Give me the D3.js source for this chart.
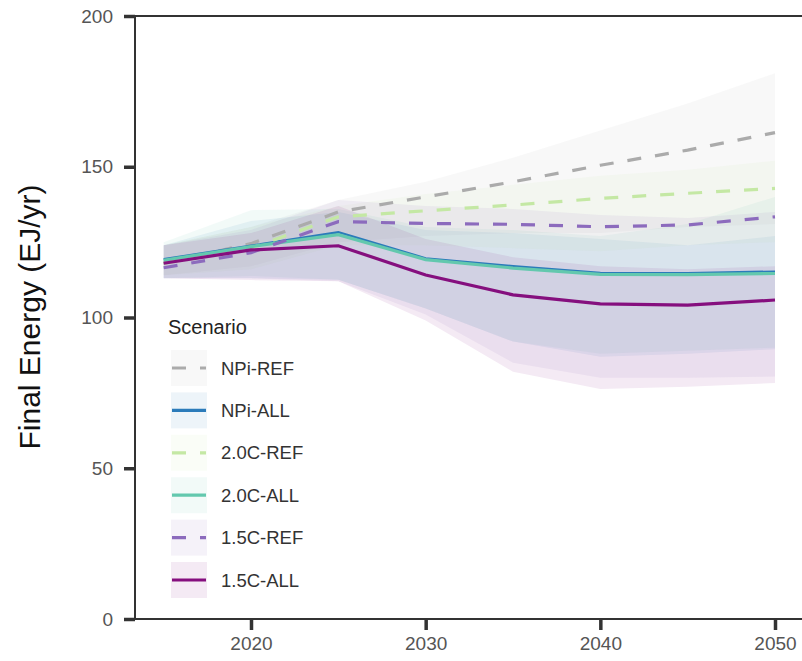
<!DOCTYPE html>
<html>
<head>
<meta charset="utf-8">
<script src="https://cdn.jsdelivr.net/npm/d3@7"></script>
<style>
  body { margin: 0; background: #fff; }
  svg { display: block; font-family: "Liberation Sans", Arial, sans-serif; }
</style>
</head>
<body>
<svg width="802" height="661"></svg>
<script>
// data
const years = [2015, 2020, 2025, 2030, 2035, 2040, 2045, 2050];
const scenarios = ["NPi-REF", "NPi-ALL", "2.0C-REF", "2.0C-ALL", "1.5C-REF", "1.5C-ALL"];
const colors = ["#ababab", "#2b7bba", "#c4e8a4", "#63c8ae", "#8c6bbd", "#850f7e"];
const dashed = [true, false, true, false, true, false];

const mid = [
  [118, 124.5, 135, 140, 145, 150.5, 155.5, 161.3],
  [119.3, 123.8, 128.3, 119.6, 117, 114.8, 114.7, 115.2],
  [118, 123, 133.4, 135.4, 137.3, 139.5, 141.2, 142.8],
  [119, 123.5, 127.5, 119.2, 116.4, 114.3, 114.2, 114.6],
  [116.5, 121.5, 131.8, 131.2, 130.9, 130.1, 130.7, 133.4],
  [118, 122.4, 123.8, 114.1, 107.5, 104.5, 104.1, 105.8]
];
const lo = [
  [114, 117, 125, 127, 128, 128, 130, 131],
  [113, 113, 112.5, 103, 92, 87, 88, 89.5],
  [114, 116, 124, 124, 123, 122, 124, 125],
  [113, 113.8, 112.5, 103, 92, 88, 89, 90],
  [113, 113, 112, 101, 85, 80, 80, 80.4],
  [113, 112.4, 112, 99, 82, 76.3, 77, 78.3]
];
const hi = [
  [124, 130, 139, 145, 153, 162, 171, 181],
  [124, 132, 135, 129, 128, 126, 124, 127],
  [124, 130, 137, 141, 144, 147, 149, 152],
  [125, 135.6, 136, 130, 129, 127, 131, 140],
  [124, 129, 139, 137, 136, 134, 133, 135],
  [124, 128, 137, 126, 120, 117, 116, 117]
];
const yTicks = [0, 50, 100, 150, 200];
const xTicks = [2020, 2030, 2040, 2050];

const bandAlpha = 0.085;

const svg = d3.select("svg");
const x = d3.scaleLinear().domain([2020, 2050]).range([251, 775]);
const y = d3.scaleLinear().domain([0, 200]).range([619, 16]);

const series = scenarios.map((name, i) => ({
  name, color: colors[i], dashed: dashed[i],
  pts: years.map((yr, j) => ({yr, v: mid[i][j], lo: lo[i][j], hi: hi[i][j]}))
}));

const area = d3.area().x(d => x(d.yr)).y0(d => y(d.lo)).y1(d => y(d.hi));
const line = d3.line().x(d => x(d.yr)).y(d => y(d.v));

svg.append("g").selectAll("path")
  .data(series)
  .join("path")
    .attr("d", d => area(d.pts))
    .attr("fill", d => d.color)
    .attr("fill-opacity", bandAlpha);

svg.append("g").selectAll("path")
  .data(series)
  .join("path")
    .attr("d", d => line(d.pts))
    .attr("fill", "none")
    .attr("stroke", d => d.color)
    .attr("stroke-width", d => d.name == "NPi-ALL" ? 2.5 : 3.2)
    .attr("stroke-dasharray", d => d.dashed ? "14,14" : null);

// axes
const axisCol = "#333";
const yAxis = svg.append("g")
    .attr("transform", "translate(135,0)")
    .call(d3.axisLeft(y).tickValues(yTicks).tickSize(11).tickPadding(11));
const xAxis = svg.append("g")
    .attr("transform", "translate(0,619)")
    .call(d3.axisBottom(x).tickValues(xTicks).tickFormat(d3.format("d")).tickSize(11).tickPadding(7));
[yAxis, xAxis].forEach(a => {
  a.select(".domain").remove();
  a.selectAll(".tick line").attr("stroke", axisCol).attr("stroke-width", 3.5);
  a.selectAll(".tick text").attr("fill", "#555").attr("font-size", 19)
    .attr("font-family", "\"Liberation Sans\", Arial, sans-serif");
});

// panel border lines (left, top, bottom)
svg.append("path")
    .attr("d", "M802,16H135V619H802")
    .attr("fill", "none")
    .attr("stroke", axisCol)
    .attr("stroke-width", 2);

svg.append("text")
    .attr("transform", "translate(40,317) rotate(-90)")
    .attr("text-anchor", "middle")
    .attr("font-size", 30)
    .attr("fill", "#111")
    .text("Final Energy (EJ/yr)");

// legend
const legend = svg.append("g").attr("transform", "translate(168,0)");
legend.append("text")
    .attr("x", 0).attr("y", 334)
    .attr("font-size", 20)
    .attr("fill", "#222")
    .text("Scenario");

const key = legend.selectAll("g.key")
  .data(series)
  .join("g")
    .attr("class", "key")
    .attr("transform", (d, i) => `translate(3,${350 + i * 42.4})`);

key.append("rect")
    .attr("width", 36).attr("height", 36)
    .attr("fill", d => d.color)
    .attr("fill-opacity", bandAlpha);

key.append("line")
    .attr("x1", 1).attr("x2", 35)
    .attr("y1", 18).attr("y2", 18)
    .attr("stroke", d => d.color)
    .attr("stroke-width", 3.2)
    .attr("stroke-dasharray", d => d.dashed ? "14,14" : null);

key.append("text")
    .attr("x", 50).attr("y", 18)
    .attr("dy", "0.36em")
    .attr("font-size", 18.5)
    .attr("fill", "#333")
    .text(d => d.name);
</script>
</body>
</html>
